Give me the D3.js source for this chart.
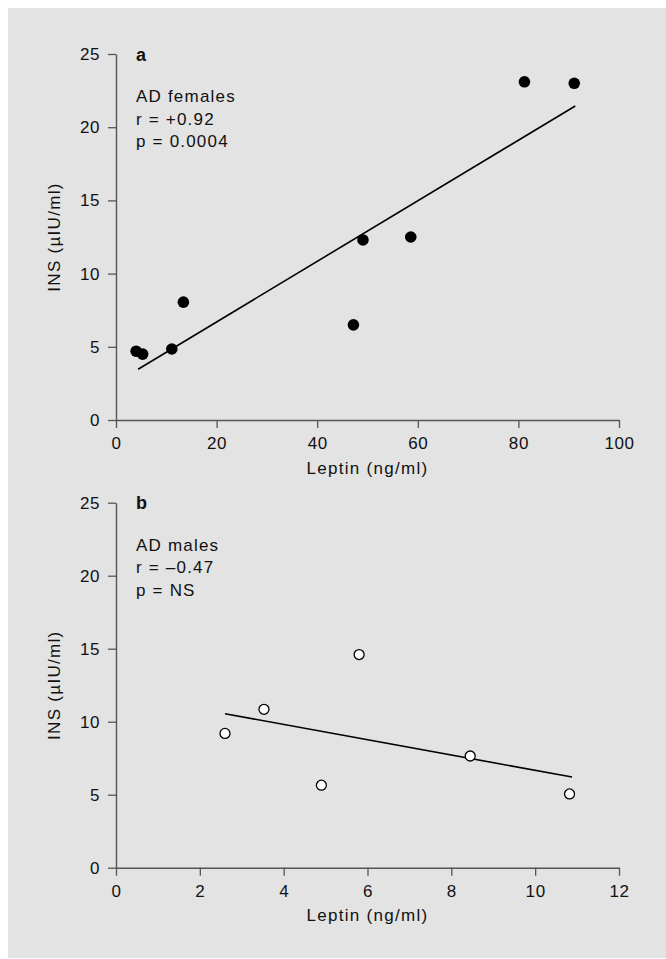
<!DOCTYPE html>
<html>
<head>
<meta charset="utf-8">
<script src="https://cdn.jsdelivr.net/npm/d3@7"></script>
<style>
  body { margin: 0; background: #fff; }
  text { font-family: "Liberation Sans", Arial, sans-serif; }
</style>
</head>
<body>
<div id="body"></div>
<script>
// values
var femaleLeptin = [4.0, 5.3, 11.1, 13.4, 47.2, 49.1, 58.6, 81.2, 91.1];
var femaleIns = [4.7, 4.5, 4.85, 8.05, 6.5, 12.3, 12.5, 23.1, 23.0];
var femaleFitX = [4.4, 91.3];
var femaleFitY = [3.47, 21.45];

var maleLeptin = [2.6, 3.53, 4.9, 5.8, 8.45, 10.82];
var maleIns = [9.2, 10.85, 5.65, 14.6, 7.65, 5.05];
var maleFitX = [2.6, 10.88];
var maleFitY = [10.55, 6.21];

var femaleXTicks = [0, 20, 40, 60, 80, 100];
var maleXTicks = [0, 2, 4, 6, 8, 10, 12];
var yTicks = [0, 5, 10, 15, 20, 25];

var femaleNotes = ["AD females", "r = +0.92", "p = 0.0004"];
var maleNotes = ["AD males", "r = \u20130.47", "p = NS"];

var wwidth = 666, hheight = 959;
var svg = d3.select("#body").append("svg")
  .attr("width", wwidth)
  .attr("height", hheight);

svg.append("rect")
  .attr("x", 8).attr("y", 8)
  .attr("width", wwidth - 8).attr("height", 950)
  .attr("fill", "#e3e3e3");

var drawPanel = function (opt) {
  var xScale = d3.scaleLinear().domain(opt.xDomain).range([116, 619]);
  var yScale = d3.scaleLinear().domain([0, 25]).range([opt.bottom, opt.top]);

  var xAxis = d3.axisBottom(xScale).tickValues(opt.xTicks).tickSize(8).tickSizeOuter(0).tickPadding(9);
  var yAxis = d3.axisLeft(yScale).tickValues(yTicks).tickSize(8).tickSizeOuter(0).tickPadding(8);

  var gx = svg.append("g")
    .attr("transform", "translate(0," + opt.bottom + ")")
    .call(xAxis);
  var gy = svg.append("g")
    .attr("transform", "translate(116,0)")
    .call(yAxis);
  [gx, gy].forEach(function (g) {
    g.select(".domain").attr("stroke", "#555").attr("stroke-width", 1.4);
    g.selectAll(".tick line").attr("stroke", "#555").attr("stroke-width", 1.3);
    g.selectAll(".tick text")
      .attr("fill", "#111")
      .style("font-size", "17px")
      .style("letter-spacing", "0.6px")
      .style("font-family", "'Liberation Sans', Arial, sans-serif");
  });

  // axis titles
  svg.append("text")
    .attr("x", 367.5)
    .attr("y", opt.bottom + 53.5)
    .attr("text-anchor", "middle")
    .attr("fill", "#111")
    .style("font-size", "17px")
    .style("letter-spacing", "1.3px")
    .text("Leptin (ng/ml)");
  svg.append("text")
    .attr("transform", "translate(60," + (opt.top + opt.bottom) / 2 + ") rotate(-90)")
    .attr("text-anchor", "middle")
    .attr("fill", "#111")
    .style("font-size", "17px")
    .style("letter-spacing", "1.3px")
    .text("INS (\u00b5IU/ml)");

  // panel letter + notes
  svg.append("text")
    .attr("x", 136)
    .attr("y", opt.top + 6.5)
    .attr("fill", "#111")
    .style("font-size", "18px")
    .style("font-weight", "bold")
    .text(opt.letter);
  var offs = [48, 70.7, 93.3];
  svg.selectAll(null)
    .data(opt.notes)
    .enter()
    .append("text")
    .attr("x", 136)
    .attr("y", function (d, i) { return opt.top + offs[i]; })
    .attr("fill", "#111")
    .style("font-size", "17px")
    .style("letter-spacing", "1.2px")
    .text(function (d) { return d; });

  // fitted line
  svg.append("line")
    .attr("x1", xScale(opt.fitX[0])).attr("y1", yScale(opt.fitY[0]))
    .attr("x2", xScale(opt.fitX[1])).attr("y2", yScale(opt.fitY[1]))
    .attr("stroke", "#000")
    .attr("stroke-width", 1.6);

  // points
  svg.append("g")
    .selectAll("circle")
    .data(opt.xs)
    .enter()
    .append("circle")
    .attr("cx", function (d) { return xScale(d); })
    .attr("cy", function (d, i) { return yScale(opt.ys[i]); })
    .attr("r", opt.filled ? 5.8 : 5)
    .attr("fill", opt.filled ? "#000" : "#fff")
    .attr("stroke", "#000")
    .attr("stroke-width", opt.filled ? 0 : 1.3);
};

drawPanel({
  top: 54, bottom: 420, xDomain: [0, 100], xTicks: femaleXTicks,
  xs: femaleLeptin, ys: femaleIns, fitX: femaleFitX, fitY: femaleFitY,
  letter: "a", notes: femaleNotes, filled: true
});
drawPanel({
  top: 502.7, bottom: 867.7, xDomain: [0, 12], xTicks: maleXTicks,
  xs: maleLeptin, ys: maleIns, fitX: maleFitX, fitY: maleFitY,
  letter: "b", notes: maleNotes, filled: false
});
</script>
</body>
</html>
